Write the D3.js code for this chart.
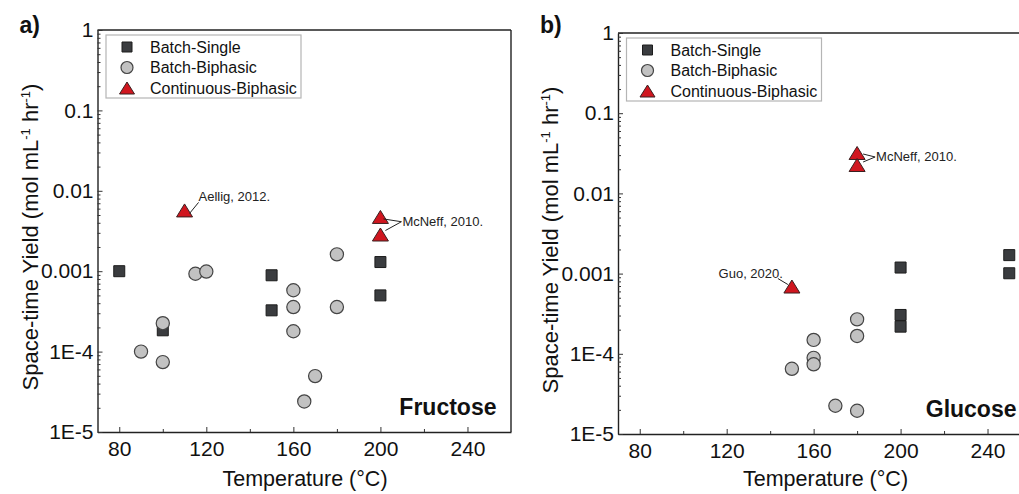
<!DOCTYPE html>
<html>
<head>
<meta charset="utf-8">
<script src="https://cdn.jsdelivr.net/npm/d3@7"></script>
<style>
  body { margin: 0; background: #fff; }
  svg { display: block; font-family: "Liberation Sans", Arial, sans-serif; }
</style>
</head>
<body>
<svg id="chart" width="1019" height="494"></svg>
<script>
//------------------------------------------------------------------------------
//Data (temperature in C, space-time yield in mol mL-1 hr-1)
//------------------------------------------------------------------------------
let seriesNames = ["Batch-Single", "Batch-Biphasic", "Continuous-Biphasic"];

let xTicks = [80, 120, 160, 200, 240];
let xMinorTicks = [100, 140, 180, 220];
let yTicks = [1e-5, 1e-4, 1e-3, 1e-2, 1e-1, 1];
let yTickLabels = ["1E-5", "1E-4", "0.001", "0.01", "0.1", "1"];

// a) Fructose
let fructoseSingle = [[80, 1.0e-3], [100, 1.84e-4], [150, 8.9e-4], [150, 3.26e-4], [200, 1.3e-3], [200, 5.0e-4]];
let fructoseBiphasic = [[90, 1.0e-4], [100, 2.26e-4], [100, 7.4e-5], [115, 9.3e-4], [120, 9.9e-4],
                        [160, 5.8e-4], [160, 3.58e-4], [160, 1.79e-4], [165, 2.4e-5], [170, 4.96e-5],
                        [180, 1.62e-3], [180, 3.58e-4]];
let fructoseContinuous = [[110, 5.7e-3], [200, 4.73e-3], [200, 2.86e-3]];

// b) Glucose
let glucoseSingle = [[200, 1.19e-3], [200, 3.05e-4], [200, 2.18e-4], [250, 1.7e-3], [250, 1.01e-3]];
let glucoseBiphasic = [[150, 6.5e-5], [160, 1.49e-4], [160, 8.9e-5], [160, 7.4e-5], [170, 2.25e-5],
                       [180, 1.95e-5], [180, 2.69e-4], [180, 1.67e-4]];
let glucoseContinuous = [[150, 6.9e-4], [180, 3.19e-2], [180, 2.26e-2]];


main()


//------------------------------------------------------------------------------
//Main
//------------------------------------------------------------------------------
function main()
{
    var svg = d3.select("#chart");

    var a = drawPanel(svg, {
        label: "a)", sugar: "Fructose",
        left: 97.5, right: 511, top: 30, bottom: 432, frameRight: true,
        single: fructoseSingle, biphasic: fructoseBiphasic, continuous: fructoseContinuous
    });
    // Aellig
    var p = fructoseContinuous[0];
    note(svg, a.x(p[0]) + 5, a.y(p[1]) + 3, a.x(p[0]) + 14, a.y(p[1]) - 8);
    noteText(svg, a.x(p[0]) + 14, a.y(p[1]) - 9, "Aellig, 2012.", "start");
    // McNeff
    var m1 = fructoseContinuous[1], m2 = fructoseContinuous[2];
    var tx = a.x(200) + 21, ty = (a.y(m1[1]) + a.y(m2[1])) / 2 - 4;
    note(svg, a.x(200) + 3, a.y(m1[1]) + 2, tx, ty);
    note(svg, a.x(200) + 5, a.y(m2[1]) - 4, tx, ty);
    noteText(svg, tx + 1, ty + 4, "McNeff, 2010.", "start");

    var b = drawPanel(svg, {
        label: "b)", sugar: "Glucose",
        left: 618, right: 1031, top: 33, bottom: 434, frameRight: false,
        single: glucoseSingle, biphasic: glucoseBiphasic, continuous: glucoseContinuous
    });
    // Guo
    var g = glucoseContinuous[0];
    note(svg, b.x(g[0]) - 4, b.y(g[1]) - 2, b.x(g[0]) - 14, b.y(g[1]) - 8);
    noteText(svg, b.x(g[0]) - 9, b.y(g[1]) - 9, "Guo, 2020.", "end");
    // McNeff
    var n1 = glucoseContinuous[1], n2 = glucoseContinuous[2];
    var ux = b.x(180) + 18, uy = (b.y(n1[1]) + b.y(n2[1])) / 2 - 2;
    note(svg, b.x(180) + 6, b.y(n1[1]) + 1, ux, uy);
    note(svg, b.x(180) + 6, b.y(n2[1]) - 3, ux, uy);
    noteText(svg, ux + 1, uy + 4, "McNeff, 2010.", "start");
}



function drawPanel(svg, cfg)
{
    var x = d3.scaleLinear().domain([70, 260]).range([cfg.left, cfg.right]);
    var y = d3.scaleLog().domain([1e-5, 1]).range([cfg.bottom, cfg.top]);

    var yMinor = [];
    yTicks.slice(0, -1).forEach(t => {
        for (let k = 2; k <= 9; k++) yMinor.push(t * k);
    });

    var g = svg.append("g");

    // frame (top / right)
    g.append("line")
        .attr("x1", cfg.left).attr("x2", cfg.right)
        .attr("y1", cfg.top).attr("y2", cfg.top)
        .attr("stroke", "#222").attr("stroke-width", 1.4);
    if (cfg.frameRight) {
        g.append("line")
            .attr("x1", cfg.right).attr("x2", cfg.right)
            .attr("y1", cfg.top).attr("y2", cfg.bottom)
            .attr("stroke", "#222").attr("stroke-width", 1.4);
    }

    // x axis
    var xAxis = g.append("g")
        .attr("transform", "translate(0," + cfg.bottom + ")")
        .call(d3.axisBottom(x).tickValues(xTicks).tickSizeInner(-5).tickSizeOuter(0).tickPadding(9));
    g.append("g")
        .attr("transform", "translate(0," + cfg.bottom + ")")
        .call(d3.axisBottom(x).tickValues(xMinorTicks).tickSize(-3).tickFormat(""))
        .call(s => s.select(".domain").remove());

    // y axis
    var yAxis = g.append("g")
        .attr("transform", "translate(" + cfg.left + ",0)")
        .call(d3.axisLeft(y).tickValues(yTicks).tickSizeInner(-5).tickSizeOuter(0).tickPadding(4)
            .tickFormat((d, i) => yTickLabels[i]));
    g.append("g")
        .attr("transform", "translate(" + cfg.left + ",0)")
        .call(d3.axisLeft(y).tickValues(yMinor).tickSize(-3).tickFormat(""))
        .call(s => s.select(".domain").remove());

    [xAxis, yAxis].forEach(ax => {
        ax.select(".domain").attr("stroke", "#222").attr("stroke-width", 1.4);
        ax.selectAll("text").attr("font-size", 21).attr("fill", "#111")
            .attr("font-family", "Liberation Sans, Arial, sans-serif");
    });
    g.selectAll(".tick line").attr("stroke", "#333");

    // axis titles
    g.append("text")
        .attr("x", cfg.left + 207.5)
        .attr("y", 486)
        .attr("text-anchor", "middle")
        .attr("font-size", 21.5).attr("fill", "#111")
        .text("Temperature (°C)");

    var yt = g.append("text")
        .attr("transform", "translate(" + (cfg.left - 60) + "," + (cfg.top + 207) + ") rotate(-90)")
        .attr("text-anchor", "middle")
        .attr("font-size", 22).attr("fill", "#111");
    yt.append("tspan").text("Space-time Yield (mol mL");
    yt.append("tspan").attr("font-size", 13).attr("dy", -8).text("-1");
    yt.append("tspan").attr("dy", 8).text(" hr");
    yt.append("tspan").attr("font-size", 13).attr("dy", -8).text("-1");
    yt.append("tspan").attr("dy", 8).text(")");

    // panel label and sugar name
    g.append("text")
        .attr("x", cfg.left - 78).attr("y", 33)
        .attr("font-size", 23).attr("font-weight", "bold").attr("fill", "#111")
        .text(cfg.label);
    g.append("text")
        .attr("x", x(240) + 29).attr("y", cfg.bottom - 17)
        .attr("text-anchor", "end")
        .attr("font-size", 23).attr("font-weight", "bold").attr("fill", "#111")
        .text(cfg.sugar);

    // points
    g.selectAll(".single")
        .data(cfg.single)
        .enter()
        .append("path")
        .attr("class", "single")
        .attr("transform", d => "translate(" + x(d[0]) + "," + y(d[1]) + ")")
        .attr("d", squarePath(11))
        .attr("fill", "#3a3c3f").attr("stroke", "#1c1c1c").attr("stroke-width", 1);

    g.selectAll(".biphasic")
        .data(cfg.biphasic)
        .enter()
        .append("circle")
        .attr("class", "biphasic")
        .attr("cx", d => x(d[0]))
        .attr("cy", d => y(d[1]))
        .attr("r", 6.6)
        .attr("fill", "#c2c2c2").attr("stroke", "#444").attr("stroke-width", 1.2);

    g.selectAll(".continuous")
        .data(cfg.continuous)
        .enter()
        .append("path")
        .attr("class", "continuous")
        .attr("transform", d => "translate(" + x(d[0]) + "," + y(d[1]) + ")")
        .attr("d", trianglePath(16, 13))
        .attr("fill", "#d0161f").attr("stroke", "#3a2020").attr("stroke-width", 1);

    // legend
    var lx = cfg.left + 8.5, ly = cfg.top + 5;
    var legend = g.append("g").attr("transform", "translate(" + lx + "," + ly + ")");
    legend.append("rect")
        .attr("width", 195).attr("height", 63)
        .attr("fill", "#fff").attr("stroke", "#b5b5b5").attr("stroke-width", 1.2);

    seriesNames.forEach((name, i) => {
        var row = legend.append("g").attr("transform", "translate(21," + (12 + i * 20.5) + ")");
        if (i == 0) {
            row.append("path").attr("d", squarePath(10))
                .attr("fill", "#3a3c3f").attr("stroke", "#1c1c1c");
        } else if (i == 1) {
            row.append("circle").attr("r", 6)
                .attr("fill", "#c2c2c2").attr("stroke", "#444").attr("stroke-width", 1.2);
        } else {
            row.append("path").attr("d", trianglePath(15, 12))
                .attr("fill", "#d0161f").attr("stroke", "#3a2020");
        }
        row.append("text")
            .attr("x", 23).attr("y", 0).attr("dy", "0.35em")
            .attr("font-size", 16).attr("fill", "#111")
            .text(name);
    });

    return {x: x, y: y};
}



//------------------------------------------------------------------------------
//Helpers
//------------------------------------------------------------------------------
function squarePath(s)
{
    var h = s / 2;
    return "M" + (-h) + "," + (-h) + "H" + h + "V" + h + "H" + (-h) + "Z";
}

function trianglePath(w, h)
{
    return "M0," + (-h / 2) + "L" + (w / 2) + "," + (h / 2) + "L" + (-w / 2) + "," + (h / 2) + "Z";
}

function note(svg, x1, y1, x2, y2)
{
    svg.append("line")
        .attr("x1", x1).attr("y1", y1).attr("x2", x2).attr("y2", y2)
        .attr("stroke", "#222").attr("stroke-width", 1);
}

function noteText(svg, x, y, txt, anchor)
{
    svg.append("text")
        .attr("x", x).attr("y", y)
        .attr("text-anchor", anchor)
        .attr("font-size", 13).attr("fill", "#222")
        .text(txt);
}
</script>
</body>
</html>
